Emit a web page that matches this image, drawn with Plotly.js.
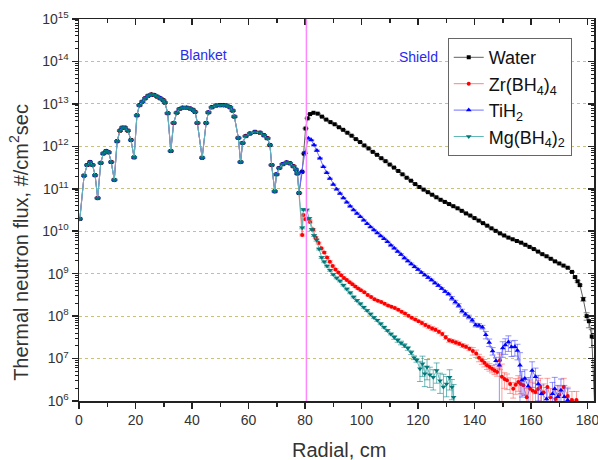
<!DOCTYPE html>
<html>
<head>
<meta charset="utf-8">
<script src="https://cdn.plot.ly/plotly-3.0.1.min.js"></script>
<style>html,body{margin:0;padding:0;background:#fff;}#chart{width:598px;height:460px;}</style>
</head>
<body>
<div id="chart"></div>
<script>
// ---- Blanket region (shared by all four shield materials) ----
const blanketX = [0.3,1.8,2.9,3.9,4.8,5.7,6.6,7.7,8.6,9.6,10.5,11.4,12.5,13.5,14.5,15.3,16.3,17.3,18.4,19.5,
  20.5,21.4,22.4,23.4,24.5,25.6,26.6,27.7,28.8,29.8,30.4,31.4,32.5,33.5,34.6,35.6,36.7,38.1,39.3,40.3,
  41.1,41.9,43.6,45.0,45.8,47.0,48.5,49.9,51.1,52.3,53.5,54.4,55.0,56.4,57.2,57.9,59.0,60.5,62.3,64.1,
  65.5,66.7,67.6,68.2,69.3,69.9,70.9,72.1,73.5,74.7,75.9,76.8,77.3,77.9];
const blanketFlux = [1.95e10,2.04e11,3.63e11,4.27e11,3.63e11,2.09e11,6.03e10,4.07e11,6.76e11,7.76e11,
  7.24e11,4.27e11,1.62e11,1.32e12,2.34e12,2.75e12,2.75e12,2.34e12,1.41e12,5.50e11,
  5.37e12,9.33e12,1.12e13,1.35e13,1.55e13,1.66e13,1.62e13,1.48e13,1.35e13,1.23e13,
  1.07e13,6.03e12,7.76e11,3.55e12,6.17e12,7.59e12,8.13e12,8.13e12,7.76e12,7.24e12,
  6.46e12,3.55e12,5.37e11,3.55e12,6.31e12,8.32e12,9.12e12,9.33e12,9.33e12,9.12e12,
  8.32e12,6.92e12,5.01e12,1.58e12,4.27e11,1.20e12,1.74e12,2.00e12,2.19e12,2.09e12,
  1.82e12,1.55e12,1.07e12,3.63e11,8.71e10,2.19e11,3.09e11,3.80e11,4.17e11,3.98e11,
  3.39e11,2.82e11,2.29e11,7.94e10];
const blanketErrPct = 3;

// ---- Shield region: Water ----
const waterX = [79.0,79.6,80.2,80.9,81.8,83.0,84.5,86.0,87.5,89.0,
  90.5,92.0,93.5,95.0,96.5,98.0,99.5,101.0,102.5,104.0,
  105.5,107.0,108.5,110.0,111.5,113.0,114.5,116.0,117.5,119.0,
  120.5,122.0,123.5,125.0,126.5,128.0,129.5,131.0,132.5,134.0,
  135.5,137.0,138.5,140.0,141.5,143.0,144.5,146.0,147.5,149.0,
  150.5,152.0,153.5,155.0,156.5,158.0,159.5,161.0,162.5,164.0,
  165.5,167.0,168.5,170.0,171.5,173.0,174.5,175.6,176.5,177.3,
  178.5,179.7,180.5,181.5,182.8];
const waterFlux = [2.51e11,6.76e11,2.63e12,4.57e12,5.75e12,6.17e12,5.89e12,5.01e12,4.27e12,3.72e12,
  3.31e12,2.82e12,2.45e12,2.09e12,1.78e12,1.48e12,1.26e12,1.05e12,8.91e11,7.41e11,
  6.31e11,5.25e11,4.47e11,3.72e11,3.16e11,2.63e11,2.19e11,1.82e11,1.55e11,1.29e11,
  1.10e11,9.55e10,8.32e10,7.24e10,6.31e10,5.50e10,4.90e10,4.37e10,3.89e10,3.47e10,
  3.02e10,2.63e10,2.34e10,2.04e10,1.78e10,1.55e10,1.35e10,1.17e10,1.02e10,8.91e9,
  7.94e9,7.08e9,6.46e9,5.89e9,5.37e9,4.79e9,4.27e9,3.80e9,3.31e9,2.88e9,
  2.57e9,2.24e9,1.95e9,1.74e9,1.55e9,1.38e9,1.10e9,8.32e8,6.61e8,5.37e8,
  2.51e8,1.00e8,7.59e7,3.31e7,3.0e5];
const waterErrPct = [2,2,2,2,2,2,2,2,2,2, 2,2,2,2,2,2,2,2,2,2, 2,2,2,2,2,2,2,2,2,2,
  2,2,2,2,2,2,2,2,2,2, 2,2,2,2,2,2,2,2,2,2, 2,2,2,2,2,2,2,2,2,2,
  3,3,3,3,3,3,3, 5,5,5, 10,20,30,45,0];

// ---- Shield region: Zr(BH4)4 ----
const zrX = [79.0,79.4,80.2,81.0,81.8,82.9,83.8,84.8,85.8,86.8,
  87.8,88.8,89.8,90.8,91.8,92.8,93.8,94.8,95.8,96.8,
  97.8,98.8,99.8,101.0,102.2,103.4,104.6,105.8,107.0,108.2,
  109.4,110.6,111.8,113.0,114.2,115.4,116.6,117.8,119.0,120.2,
  121.4,122.6,123.8,125.0,126.2,127.4,128.6,129.8,131.0,132.2,
  133.4,134.6,135.8,137.0,138.2,139.4,140.6,141.6,142.6,143.5,
  144.4,145.3,146.2,147.1,148.0,149.0,149.7,150.6,151.5,152.6,
  153.7,154.6,155.5,156.4,157.3,158.5,159.7,160.6,161.6,162.5,
  163.3,164.5,165.8,166.9,168.7,170.0,171.6,173.0,174.5,176.1];
const zrFlux = [8.13e9,2.40e10,1.91e10,2.00e10,1.66e10,1.10e10,7.08e9,5.25e9,3.98e9,3.16e9,
  2.40e9,1.91e9,1.51e9,1.26e9,1.07e9,9.12e8,7.94e8,7.08e8,6.31e8,5.62e8,
  5.01e8,4.47e8,4.07e8,3.63e8,3.16e8,2.82e8,2.51e8,2.29e8,2.14e8,1.95e8,
  1.78e8,1.66e8,1.55e8,1.41e8,1.26e8,1.15e8,1.02e8,9.12e7,8.32e7,7.59e7,
  6.92e7,6.17e7,5.62e7,5.13e7,4.79e7,4.27e7,3.80e7,3.16e7,2.69e7,2.57e7,
  2.40e7,2.24e7,2.04e7,1.91e7,1.70e7,1.51e7,1.32e7,1.05e7,9.12e6,7.94e6,
  6.92e6,6.31e6,5.75e6,5.25e6,4.79e6,9.12e6,3.72e6,3.31e6,3.09e6,2.51e6,
  1.95e6,2.40e6,2.82e6,2.51e6,2.34e6,1.23e6,1.95e6,1.74e6,1.62e6,1.91e6,
  2.14e6,1.58e6,2.14e6,1.23e6,1.12e6,1.41e6,2.14e6,1.32e6,1.05e6,1.05e6];
const zrErrPct = [5,5,5,5,5,5,5,5,5,5, 5,5,5,5,5,5,5,5,5,5, 5,5,5,5,5,5,5,5,5,5, 5,5,5,5,5,5,5,5,5,5,
  10,10,10,10,10,10,10,10,10,10, 10,10,10,10,10,
  20,20,20,20,20,20,20,20,20,20,
  40,99,40,40,40,40,40,40,40,40,
  60,60,60,60,60,60,60,60,60,60, 60,60,60,60,60];

// ---- Shield region: TiH2 ----
const tiX = [78.8,80.0,81.2,82.2,83.2,84.2,85.3,86.5,87.7,88.8,
  90.0,91.2,92.4,93.6,94.8,96.0,97.2,98.4,99.6,100.8,
  102.0,103.2,104.4,105.6,106.8,108.0,109.2,110.4,111.6,112.8,
  114.0,115.2,116.4,117.6,118.8,120.0,121.2,122.4,123.6,124.8,
  126.0,127.2,128.4,129.6,130.8,132.0,133.2,134.4,135.6,136.8,
  138.0,139.2,140.4,141.6,142.8,144.0,145.2,146.4,147.6,148.8,
  150.0,150.9,152.0,153.1,154.3,155.2,156.1,156.8,157.8,159.0,
  160.4,161.6,162.6,163.7,165.5,167.6,168.4,169.5,170.6,171.8,
  173.0,174.0];
const tiFlux = [2.51e11,7.08e11,1.55e12,1.41e12,1.07e12,7.94e11,5.25e11,3.31e11,2.40e11,1.74e11,
  1.26e11,9.77e10,7.76e10,6.03e10,4.79e10,3.89e10,3.16e10,2.63e10,2.19e10,1.82e10,
  1.51e10,1.26e10,1.07e10,9.12e9,7.76e9,6.61e9,5.62e9,4.68e9,3.98e9,3.31e9,
  2.82e9,2.34e9,2.00e9,1.70e9,1.45e9,1.26e9,1.07e9,9.33e8,8.13e8,7.08e8,
  6.03e8,5.25e8,4.47e8,3.80e8,3.31e8,2.63e8,2.14e8,1.78e8,1.32e8,1.10e8,
  9.55e7,7.94e7,6.17e7,6.03e7,5.50e7,3.63e7,2.40e7,1.51e7,8.91e6,6.92e6,
  1.78e7,2.09e7,2.45e7,1.86e7,1.91e7,1.55e7,6.92e6,3.09e6,3.39e6,2.24e6,
  5.25e6,3.72e6,2.51e6,1.48e6,1.12e6,1.48e6,1.95e6,1.26e6,1.78e6,1.26e6,
  1.05e6,3.2e5];
const tiErrPct = [3,3,3,3,3,3,3,3,3,3, 3,3,3,3,3,3,3,3,3,3, 3,3,3,3,3,3,3,3,3,3,
  5,5,5,5,5,5,5,5,5,5, 5,5,5,5,5,
  10,10,10,10,10,10,10,10,10,10,
  20,20,20,20,99,
  40,40,40,40,40,40,
  99,60,60,60,60,60,60,60,
  85,85,85,85,85,85,85, 0];

// ---- Shield region: Mg(BH4)2 ----
const mgX = [79.0,79.4,80.6,81.5,82.4,83.2,84.1,85.0,85.9,86.8,
  87.8,88.9,90.0,91.2,92.4,93.6,94.8,96.0,97.2,98.4,
  99.6,100.8,102.0,103.2,104.4,105.6,106.8,108.0,109.2,110.4,
  111.6,112.8,114.0,115.2,116.4,117.6,118.6,119.5,120.7,121.6,
  122.4,123.2,124.2,125.4,126.6,127.8,129.0,130.1,131.2,132.0,
  132.6,133.4];
const mgFlux = [1.20e10,3.24e10,3.16e10,2.00e10,1.10e10,7.94e9,6.17e9,3.80e9,2.40e9,1.91e9,
  1.51e9,1.20e9,9.55e8,7.94e8,6.76e8,5.37e8,4.37e8,3.55e8,2.82e8,2.34e8,
  1.95e8,1.62e8,1.35e8,1.12e8,9.33e7,7.94e7,6.61e7,5.50e7,4.57e7,3.80e7,
  3.16e7,2.69e7,2.34e7,2.04e7,1.74e7,1.38e7,1.05e7,9.12e6,5.75e6,7.59e6,
  4.37e6,6.31e6,4.17e6,3.63e6,5.25e6,3.02e6,2.14e6,2.51e6,3.63e6,2.14e6,
  1.23e6,4.0e5];
const mgErrPct = [5,5,5,5,5,5,5,5,5,5, 5,5,5,5,5,5,5,5,5,5, 5,5,5,5,5,5,5,5,5,5,
  10,10,10,10,10,10,10,10,
  50,50,50,50,50,50,50,50,99,50,50,50,99, 0];

const seriesNames = ['Water','Zr(BH<sub>4</sub>)<sub>4</sub>','TiH<sub>2</sub>','Mg(BH<sub>4</sub>)<sub>2</sub>'];
const boundaryX = 80.5;
const regionLabels = ['Blanket','Shield'];
const regionLabelX = [44, 120];
const regionLabelY = [1.4e14, 1.3e14];
const xTitle = 'Radial, cm';
const yTitle = 'Thermal neutron flux, #/cm<sup>2</sup>sec';
const yTickVals = [1e6,1e7,1e8,1e9,1e10,1e11,1e12,1e13,1e14,1e15];
const yTickText = ['10<sup>6</sup>','10<sup>7</sup>','10<sup>8</sup>','10<sup>9</sup>','10<sup>10</sup>',
  '10<sup>11</sup>','10<sup>12</sup>','10<sup>13</sup>','10<sup>14</sup>','10<sup>15</sup>'];

function makeSeries(name, sx, sy, sp, markerColor, lineColor, errColor, symbol, size) {
  const x = blanketX.concat(sx);
  const y = blanketFlux.concat(sy);
  const pct = blanketX.map(() => blanketErrPct).concat(sp);
  const err = y.map((v, i) => v * pct[i] / 100);
  return {
    type: 'scatter', mode: 'lines+markers', name: name, x: x, y: y,
    line: {color: lineColor, width: 1},
    marker: {color: markerColor, symbol: symbol, size: size, line: {width: 0}},
    error_y: {type: 'data', symmetric: true, array: err, color: errColor, thickness: 1, width: 3},
    cliponaxis: true
  };
}

const traces = [
  makeSeries(seriesNames[0], waterX, waterFlux, waterErrPct, '#000000', '#606060', 'rgba(60,60,60,0.6)', 'square', 4),
  makeSeries(seriesNames[1], zrX, zrFlux, zrErrPct, '#ff0000', '#ff8080', 'rgba(255,80,80,0.55)', 'circle', 4),
  makeSeries(seriesNames[2], tiX, tiFlux, tiErrPct, '#0000ff', '#7070ff', 'rgba(60,60,255,0.55)', 'triangle-up', 5),
  makeSeries(seriesNames[3], mgX, mgFlux, mgErrPct, '#007878', '#60b8b8', 'rgba(0,128,128,0.55)', 'triangle-down', 5),
  {type: 'scatter', x: [], y: [], xaxis: 'x2', yaxis: 'y2', showlegend: false, hoverinfo: 'skip'}
];

// minor tick positions for log axis (axis styling)
const yMinor = [];
for (let d = 6; d < 15; d++) for (let m = 2; m <= 9; m++) yMinor.push(m * Math.pow(10, d));

const fontFam = 'Liberation Sans, Arial, sans-serif';
const annos = regionLabels.map((t, i) => ({
  text: t, x: regionLabelX[i], y: Math.log10(regionLabelY[i]), xref: 'x', yref: 'y',
  showarrow: false, font: {size: 14, family: fontFam, color: '#2a2aee'}}));
annos.push({text: xTitle, xref: 'paper', yref: 'paper', x: 0.505, y: -0.128, showarrow: false,
  xanchor: 'center', yanchor: 'middle', font: {size: 20, family: fontFam, color: '#333'}});
annos.push({text: yTitle, xref: 'paper', yref: 'paper', x: -0.1165, y: 0.414, showarrow: false, textangle: -90,
  xanchor: 'center', yanchor: 'middle', font: {size: 20, family: fontFam, color: '#333'}});

const layout = {
  width: 598, height: 460,
  margin: {l: 79, r: 4, t: 19, b: 59},
  paper_bgcolor: '#ffffff', plot_bgcolor: '#ffffff',
  font: {family: fontFam, color: '#222'},
  showlegend: true,
  legend: {x: 0.716, y: 0.95, xanchor: 'left', yanchor: 'top',
    bordercolor: '#666', borderwidth: 1, bgcolor: '#ffffff',
    font: {size: 18, family: fontFam, color: '#111'}, tracegroupgap: 0},
  xaxis: {range: [0, 182.3], tick0: 0, dtick: 20, ticks: 'outside', ticklen: 6, tickwidth: 1.5,
    tickcolor: '#222', showline: true, linecolor: '#222', linewidth: 1.5, showgrid: false, zeroline: false,
    ticklabeloverflow: 'allow',
    tickfont: {size: 14, family: fontFam, color: '#333'},
    minor: {dtick: 10, ticks: 'outside', ticklen: 4, tickwidth: 1.5, tickcolor: '#222'}},
  yaxis: {type: 'log', range: [6, 15], tickvals: yTickVals, ticktext: yTickText, ticks: 'outside', ticklen: 6,
    tickwidth: 1.5, tickcolor: '#222', showline: true, linecolor: '#222', linewidth: 1.5,
    showgrid: true, gridcolor: '#c8c27a', griddash: 'dot', gridwidth: 1, zeroline: false,
    ticklabeloverflow: 'allow',
    tickfont: {size: 14, family: fontFam, color: '#333'},
    minor: {tickvals: yMinor, ticks: 'outside', ticklen: 3, tickwidth: 1, tickcolor: '#222', showgrid: false}},
  xaxis2: {overlaying: 'x', side: 'top', anchor: 'y2', range: [0, 182.3], tick0: 0, dtick: 20, ticks: 'inside', ticklen: 6,
    tickwidth: 1.5, tickcolor: '#222', showticklabels: false, showline: true, linecolor: '#222', linewidth: 1.5,
    showgrid: false, zeroline: false,
    minor: {dtick: 10, ticks: 'inside', ticklen: 4, tickwidth: 1.5, tickcolor: '#222'}},
  yaxis2: {overlaying: 'y', side: 'right', anchor: 'x2', type: 'log', range: [6, 15], tickvals: yTickVals, ticks: 'inside',
    ticklen: 6, tickwidth: 1.5, tickcolor: '#222', showticklabels: false, showline: true, linecolor: '#222',
    linewidth: 1.5, showgrid: false, zeroline: false,
    minor: {tickvals: yMinor, ticks: 'inside', ticklen: 3, tickwidth: 1, tickcolor: '#222', showgrid: false}},
  shapes: [{type: 'line', xref: 'x', yref: 'paper', x0: boundaryX, x1: boundaryX, y0: 0, y1: 1,
    line: {color: '#ff88ff', width: 1.5}, layer: 'above'}],
  annotations: annos
};

Plotly.newPlot('chart', traces, layout, {displayModeBar: false, staticPlot: true});
</script>
</body>
</html>
